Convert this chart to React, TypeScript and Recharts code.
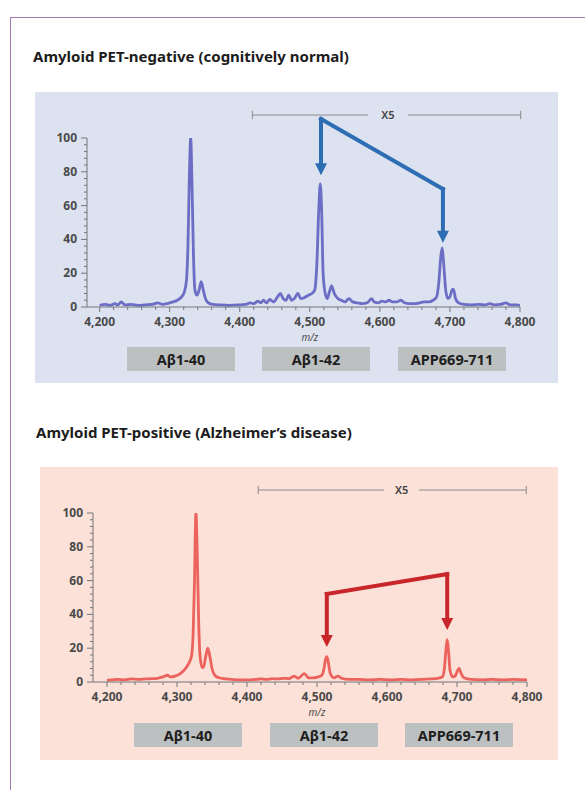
import React from "react";
import { LineChart, Line, XAxis, YAxis, ReferenceLine, ReferenceDot } from "recharts";

// m/z, relative intensity
const negativeSpectrum: [number, number][] = [
  [4200, 1], [4208, 1.5], [4215, 1], [4222, 2], [4226, 1.2], [4231, 3], [4236, 1.2], [4245, 1.5],
  [4255, 1], [4265, 1.3], [4275, 1.5], [4283, 2.5], [4290, 1.5], [4298, 2.2], [4305, 3], [4311, 4],
  [4317, 6], [4321, 9], [4324, 16], [4326, 35], [4328, 75], [4330, 100], [4332, 70], [4334, 30],
  [4336, 10], [4339, 7], [4342, 10], [4345, 15], [4348, 10], [4351, 5], [4355, 2.5], [4362, 1.5],
  [4372, 1.2], [4385, 1], [4398, 1.2], [4408, 1.5], [4415, 2.5], [4420, 2], [4426, 3.5], [4430, 2.5],
  [4434, 4], [4438, 2.5], [4443, 4.5], [4448, 3], [4454, 6], [4458, 8], [4462, 5], [4466, 4],
  [4470, 7], [4474, 4], [4478, 5], [4483, 8], [4487, 5], [4492, 5.5], [4498, 7], [4503, 8],
  [4507, 10], [4510, 25], [4513, 60], [4515, 73], [4517, 55], [4519, 20], [4522, 8], [4525, 5],
  [4528, 9], [4531, 12.5], [4535, 8], [4540, 5], [4545, 4], [4550, 3], [4556, 5], [4561, 3],
  [4568, 2.5], [4575, 2], [4582, 2.5], [4588, 5], [4592, 3], [4598, 2.5], [4603, 3.5], [4608, 3],
  [4613, 4], [4618, 3], [4624, 3], [4630, 4], [4635, 2.5], [4642, 2], [4650, 2], [4657, 2.5],
  [4663, 3], [4670, 3], [4676, 4], [4681, 6], [4684, 14], [4687, 30], [4689, 35], [4691, 26],
  [4694, 10], [4697, 5], [4700, 6], [4703, 10], [4705, 10.5], [4708, 5], [4712, 2.5], [4720, 1.5],
  [4730, 1.2], [4742, 1.5], [4750, 1.2], [4757, 2], [4763, 1.3], [4772, 1.5], [4780, 2.5], [4786, 1.3],
  [4795, 1.2], [4800, 1],
];

const positiveSpectrum: [number, number][] = [
  [4200, 1], [4205, 1.2], [4215, 1.5], [4225, 1.3], [4235, 1.8], [4245, 1.5], [4255, 1.8], [4265, 2],
  [4272, 2.2], [4280, 3], [4286, 4], [4291, 3], [4297, 3.5], [4303, 4.5], [4309, 6.5], [4314, 9],
  [4318, 12], [4321, 16], [4323, 28], [4325, 60], [4327, 100], [4329, 75], [4331, 35], [4333, 15],
  [4336, 8.5], [4338, 9], [4341, 15], [4344, 20], [4347, 15], [4350, 8], [4354, 4], [4360, 2.5],
  [4370, 1.8], [4385, 1.3], [4400, 1.2], [4412, 1.5], [4420, 1.8], [4428, 1.5], [4436, 2], [4444, 1.8],
  [4452, 2.2], [4460, 2], [4467, 3.5], [4473, 2.2], [4482, 5], [4488, 2.5], [4495, 2.5], [4502, 3],
  [4507, 4], [4510, 8], [4512, 13], [4514, 15], [4516, 12], [4519, 5], [4524, 2.5], [4530, 3.5],
  [4535, 2.2], [4545, 1.5], [4560, 1.5], [4575, 1.3], [4590, 1.6], [4605, 1.2], [4620, 1.5], [4635, 1.3],
  [4650, 1.5], [4662, 1.8], [4672, 2.2], [4679, 3], [4682, 8], [4684, 18], [4686, 25], [4688, 18],
  [4690, 7], [4694, 3], [4698, 4], [4701, 7], [4703, 8], [4706, 5], [4710, 2.5], [4720, 1.5],
  [4735, 1.3], [4750, 1.5], [4765, 1.2], [4780, 1.5], [4800, 1.2],
];

const majorMz = [4200, 4300, 4400, 4500, 4600, 4700, 4800];
const majorIntensity = [0, 20, 40, 60, 80, 100];
const peptideLabels = ["Aβ1-40", "Aβ1-42", "APP669-711"];

const mzTicks: number[] = [];
for (let v = 4200; v <= 4800; v += 20) mzTicks.push(v);
const intensityTicks: number[] = [];
for (let v = 0; v <= 100; v += 4) intensityTicks.push(v);

const FONT = "'Noto Sans', 'Open Sans', sans-serif";
const AXIS = "#74767b";

const XTick = ({ x, y, payload }: any) => {
  const major = majorMz.includes(payload.value);
  return (
    <g>
      <line x1={x} x2={x} y1={y} y2={y + (major ? 5 : 3)} stroke={AXIS} strokeWidth={1} />
      {major && (
        <text x={x} y={y + 19} textAnchor="middle" fontSize={12} fontWeight={700} fill="#4a4a4a" fontFamily={FONT}>
          {payload.value.toLocaleString("en-US")}
        </text>
      )}
      {payload.value === 4500 && (
        <text x={x} y={y + 34} textAnchor="middle" fontSize={10} fontStyle="italic" fill="#4a4a4a" fontFamily={FONT}>
          m/z
        </text>
      )}
    </g>
  );
};

const YTick = ({ x, y, payload }: any) => {
  const major = majorIntensity.includes(payload.value);
  return (
    <g>
      <line x1={x - (major ? 6 : 3)} x2={x} y1={y} y2={y} stroke={AXIS} strokeWidth={1} />
      {major && (
        <text x={x - 10} y={y + 4} textAnchor="end" fontSize={12} fontWeight={700} fill="#4a4a4a" fontFamily={FONT}>
          {payload.value}
        </text>
      )}
    </g>
  );
};

const arrowHead = (color: string) => (p: any) => (
  <path d={`M${p.cx - 6},${p.cy - 12} L${p.cx + 6},${p.cy - 12} L${p.cx},${p.cy} Z`} fill={color} />
);

type Arrow = { left: number; right: number; top: number; corner: number; leftTip: number; rightTip: number };
type Bracket = { from: number; to: number; gapFrom: number; gapTo: number; y: number };

function Spectrum({
  spectrum, color, arrowColor, arrow, bracket, domainStart, margin,
}: {
  spectrum: [number, number][]; color: string; arrowColor: string; arrow: Arrow; bracket: Bracket;
  domainStart: number; margin: { top: number; right: number; bottom: number; left: number };
}) {
  const data = spectrum.map(([mz, v]) => ({ mz, v }));
  const seg = { stroke: arrowColor, strokeWidth: 4, strokeLinecap: "square" as const, ifOverflow: "visible" as const };
  const br = { stroke: "#8c8c8c", strokeWidth: 1, ifOverflow: "visible" as const };
  return (
    <LineChart width={585} height={390} data={data} margin={margin}>
      <XAxis
        dataKey="mz"
        type="number"
        domain={[domainStart, 4800]}
        ticks={mzTicks}
        interval={0}
        tick={<XTick />}
        tickLine={false}
        tickSize={0}
        tickMargin={0}
        height={40}
        stroke={AXIS}
        allowDataOverflow
      />
      <YAxis
        type="number"
        domain={[0, 100]}
        ticks={intensityTicks}
        interval={0}
        tick={<YTick />}
        tickLine={false}
        tickSize={0}
        tickMargin={0}
        width={50}
        stroke={AXIS}
        allowDataOverflow
      />
      {/* X5 bracket */}
      <ReferenceLine segment={[{ x: bracket.from, y: bracket.y }, { x: bracket.gapFrom, y: bracket.y }]} {...br} />
      <ReferenceLine segment={[{ x: bracket.gapTo, y: bracket.y }, { x: bracket.to, y: bracket.y }]} {...br} />
      <ReferenceLine segment={[{ x: bracket.from, y: bracket.y - 2.5 }, { x: bracket.from, y: bracket.y + 2.5 }]} {...br} />
      <ReferenceLine segment={[{ x: bracket.to, y: bracket.y - 2.5 }, { x: bracket.to, y: bracket.y + 2.5 }]} {...br} />
      <ReferenceDot
        x={(bracket.gapFrom + bracket.gapTo) / 2}
        y={bracket.y}
        ifOverflow="visible"
        shape={(p: any) => (
          <text x={p.cx} y={p.cy + 4} textAnchor="middle" fontSize={11} fontWeight={600} fill="#444" fontFamily={FONT}>X5</text>
        )}
      />
      <Line dataKey="v" type="monotone" stroke={color} strokeWidth={2.8} dot={false} isAnimationActive={false} />
      {/* arrows */}
      <ReferenceLine segment={[{ x: arrow.left, y: arrow.top }, { x: arrow.left, y: arrow.leftTip + 5 }]} {...seg} />
      <ReferenceLine segment={[{ x: arrow.left, y: arrow.top }, { x: arrow.right, y: arrow.corner }]} {...seg} />
      <ReferenceLine segment={[{ x: arrow.right, y: arrow.corner }, { x: arrow.right, y: arrow.rightTip + 5 }]} {...seg} />
      <ReferenceDot x={arrow.left} y={arrow.leftTip} ifOverflow="visible" shape={arrowHead(arrowColor)} />
      <ReferenceDot x={arrow.right} y={arrow.rightTip} ifOverflow="visible" shape={arrowHead(arrowColor)} />
    </LineChart>
  );
}

const titleStyle: React.CSSProperties = {
  position: "absolute", fontFamily: FONT, fontWeight: 700, fontSize: 15, color: "#1c1c1c", whiteSpace: "nowrap",
};

function LabelBoxes({ top, lefts }: { top: number; lefts: number[] }) {
  return (
    <>
      {peptideLabels.map((t, i) => (
        <div
          key={t}
          style={{
            position: "absolute", left: lefts[i], top, width: 108, height: 24, background: "#bdc0c0",
            display: "flex", alignItems: "center", justifyContent: "center",
            fontFamily: FONT, fontWeight: 700, fontSize: 14.5, color: "#1e1e1e",
          }}
        >
          {t}
        </div>
      ))}
    </>
  );
}

export default function App() {
  return (
    <div style={{ position: "absolute", left: 0, top: 0, width: 585, height: 790, background: "#fff", overflow: "hidden" }}>
      <div style={{ position: "absolute", left: 10, top: 17, width: 600, height: 800, borderTop: "1.5px solid #a27bb0", borderLeft: "1.5px solid #a27bb0" }} />
      <div style={{ ...titleStyle, left: 33, top: 46 }}>Amyloid PET-negative (cognitively normal)</div>
      <div style={{ position: "absolute", left: 35, top: 92, width: 523, height: 291, background: "#dde2f0" }} />
      <LabelBoxes top={347} lefts={[127, 262, 398]} />
      <div style={{ ...titleStyle, left: 36, top: 422 }}>Amyloid PET-positive (Alzheimer’s disease)</div>
      <div style={{ position: "absolute", left: 40, top: 467, width: 518, height: 293, background: "#fbe1d8" }} />
      <LabelBoxes top={723} lefts={[134, 270, 405]} />

      <div style={{ position: "absolute", left: 0, top: 0 }}>
        <Spectrum
          spectrum={negativeSpectrum}
          color="#6b6ec4"
          arrowColor="#2c6db4"
          domainStart={4182}
          margin={{ top: 138, right: 65, bottom: 43, left: 37 }}
          arrow={{ left: 4516, right: 4690, top: 111.2, corner: 69.8, leftTip: 78, rightTip: 38 }}
          bracket={{ from: 4418, to: 4801, gapFrom: 4583, gapTo: 4640, y: 113.6 }}
        />
      </div>
      <div style={{ position: "absolute", left: 0, top: 400 }}>
        <Spectrum
          spectrum={positiveSpectrum}
          color="#ec625c"
          arrowColor="#c8262b"
          domainStart={4180}
          margin={{ top: 113, right: 58, bottom: 68, left: 43 }}
          arrow={{ left: 4514, right: 4686, top: 52.1, corner: 63.9, leftTip: 20.7, rightTip: 30.8 }}
          bracket={{ from: 4416, to: 4799, gapFrom: 4596, gapTo: 4646, y: 113.6 }}
        />
      </div>
    </div>
  );
}
